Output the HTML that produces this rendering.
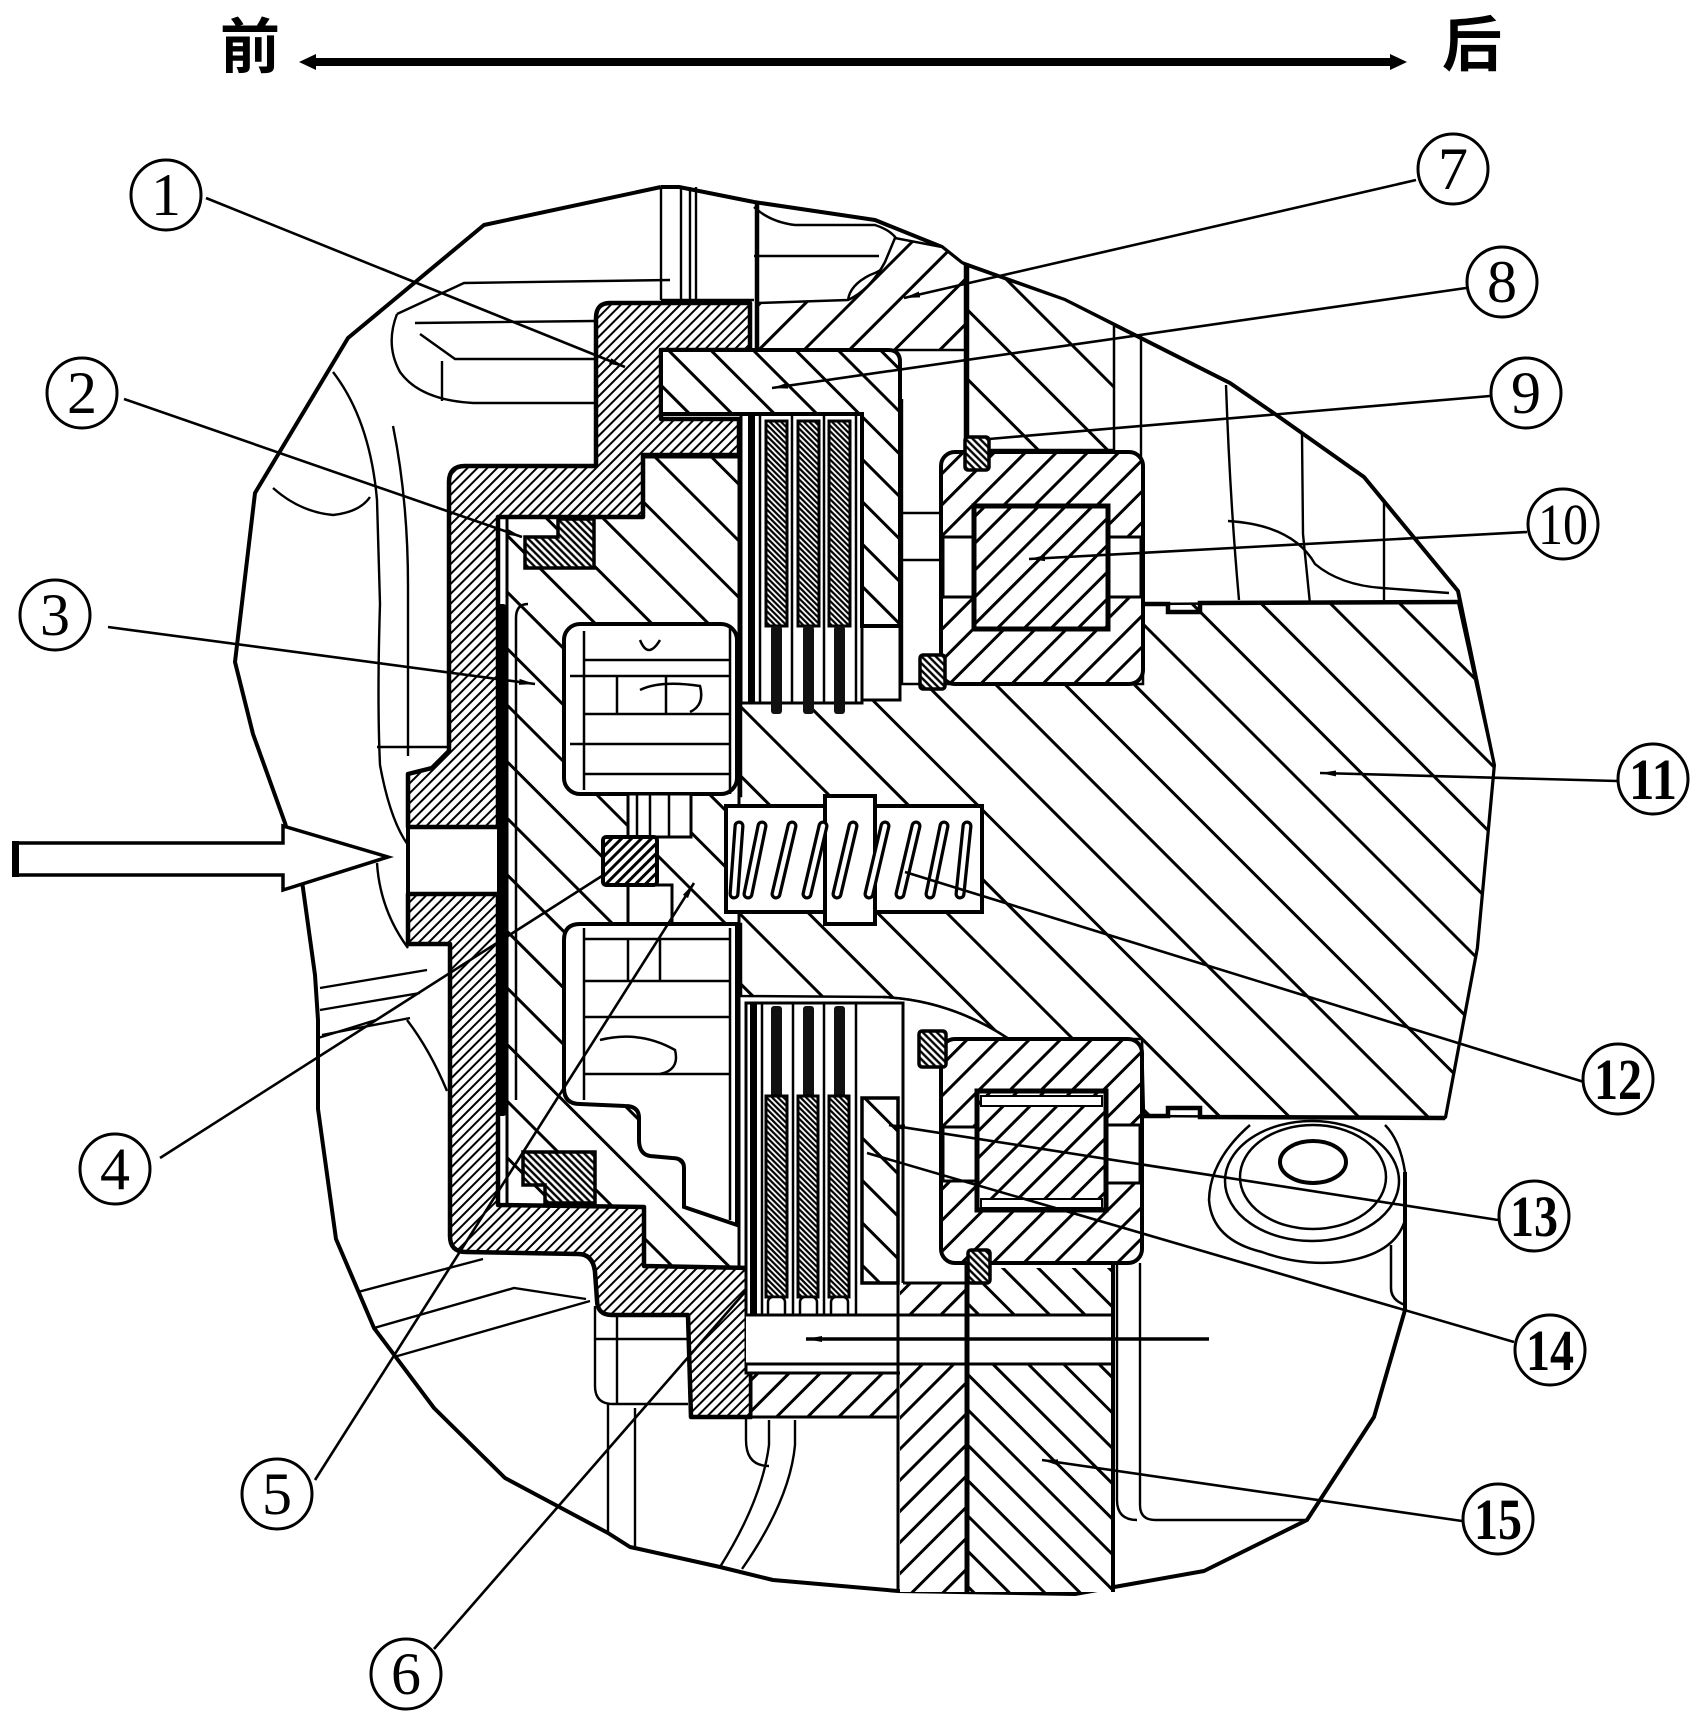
<!DOCTYPE html>
<html><head><meta charset="utf-8"><style>html,body{margin:0;padding:0;background:#fff}svg{display:block}</style></head>
<body>
<svg width="1699" height="1723" viewBox="0 0 1699 1723" xmlns="http://www.w3.org/2000/svg">
<defs>
<pattern id="d1" patternUnits="userSpaceOnUse" width="7" height="7" patternTransform="rotate(45)"><rect width="7" height="7" fill="#fff"/><line x1="3.5" y1="0" x2="3.5" y2="7" stroke="#000" stroke-width="2"/></pattern>
<pattern id="b3" patternUnits="userSpaceOnUse" width="40" height="40" patternTransform="rotate(-45)"><rect width="40" height="40" fill="#fff"/><line x1="20" y1="0" x2="20" y2="40" stroke="#000" stroke-width="3"/></pattern>
<pattern id="b11" patternUnits="userSpaceOnUse" width="49" height="49" patternTransform="rotate(-45)"><rect width="49" height="49" fill="#fff"/><line x1="24" y1="0" x2="24" y2="49" stroke="#000" stroke-width="3"/></pattern>
<pattern id="b8" patternUnits="userSpaceOnUse" width="30" height="30" patternTransform="rotate(-45)"><rect width="30" height="30" fill="#fff"/><line x1="15" y1="0" x2="15" y2="30" stroke="#000" stroke-width="3"/></pattern>
<pattern id="f7" patternUnits="userSpaceOnUse" width="32" height="32" patternTransform="rotate(45)"><rect width="32" height="32" fill="#fff"/><line x1="16" y1="0" x2="16" y2="32" stroke="#000" stroke-width="3"/></pattern>
<pattern id="fr" patternUnits="userSpaceOnUse" width="22" height="22" patternTransform="rotate(45)"><rect width="22" height="22" fill="#fff"/><line x1="11" y1="0" x2="11" y2="22" stroke="#000" stroke-width="3"/></pattern>
<pattern id="f10" patternUnits="userSpaceOnUse" width="19" height="19" patternTransform="rotate(45)"><rect width="19" height="19" fill="#fff"/><line x1="9.5" y1="0" x2="9.5" y2="19" stroke="#000" stroke-width="3"/></pattern>
<pattern id="b15" patternUnits="userSpaceOnUse" width="25" height="25" patternTransform="rotate(-45)"><rect width="25" height="25" fill="#fff"/><line x1="12.5" y1="0" x2="12.5" y2="25" stroke="#000" stroke-width="3"/></pattern>
<pattern id="sl" patternUnits="userSpaceOnUse" width="5" height="5" patternTransform="rotate(-45)"><rect width="5" height="5" fill="#fff"/><line x1="2.5" y1="0" x2="2.5" y2="5" stroke="#000" stroke-width="2.4"/></pattern>
<pattern id="s4" patternUnits="userSpaceOnUse" width="7" height="7" patternTransform="rotate(45)"><rect width="7" height="7" fill="#fff"/><line x1="3.5" y1="0" x2="3.5" y2="7" stroke="#000" stroke-width="3"/></pattern>
<pattern id="fc" patternUnits="userSpaceOnUse" width="4" height="4" patternTransform="rotate(-45)"><rect width="4" height="4" fill="#fff"/><line x1="2" y1="0" x2="2" y2="4" stroke="#000" stroke-width="2.2"/></pattern>
<marker id="ar" viewBox="0 0 16 8" refX="16" refY="4" markerWidth="16" markerHeight="8" markerUnits="userSpaceOnUse" orient="auto"><path d="M0,1 L16,4 L0,7 Z" fill="#000"/></marker>
<clipPath id="bossclip"><rect x="1150" y="1119" width="300" height="250"/></clipPath>
</defs>
<rect width="1699" height="1723" fill="#fff"/>

<!-- title -->
<text x="250" y="68" font-family="Liberation Sans, Noto Sans CJK SC, sans-serif" font-size="60" font-weight="bold" text-anchor="middle">前</text>
<text x="1472" y="66" font-family="Liberation Sans, Noto Sans CJK SC, sans-serif" font-size="60" font-weight="bold" text-anchor="middle">后</text>
<line x1="310" y1="62" x2="1396" y2="62" stroke="#000" stroke-width="8"/>
<polygon points="299,62 316,54 316,70" fill="#000"/>
<polygon points="1407,62 1390,54 1390,70" fill="#000"/>

<!-- thin housing lines -->
<g fill="none" stroke="#000" stroke-width="2.4">
<path d="M397,314 L464,283 L670,280"/>
<path d="M415,323 L594,321"/>
<path d="M420,334 L455,359 L594,359"/>
<path d="M397,314 Q385,345 400,372 Q420,400 473,403 L594,403"/>
<path d="M442,361 L442,401"/>
<path d="M661,187 L661,300 M681,187 L681,300 M690,187 L690,300 M696,187 L696,300 M661,300 L754,300"/>
<path d="M754,207 Q770,222 795,225 L875,225 Q905,235 897,255 Q885,270 870,275 Q850,285 848,300"/>
<path d="M754,256 L879,256"/>
<path d="M333,372 Q370,420 377,500 L380,604 Q377,700 380,765 Q390,820 408,845"/>
<path d="M393,426 Q408,500 408,586 L408,756"/>
<path d="M273,488 Q300,512 333,515 Q360,512 370,497"/>
<path d="M377,747 L450,747"/>
<path d="M377,863 Q380,910 408,948"/>
<path d="M320,988 L427,970 M320,1010 L420,993 M322,1035 L410,1018"/>
<path d="M318,1038 L376,1020 M407,1020 Q430,1050 447,1091"/>
<path d="M358,1292 L483,1259 M374,1328 L514,1288 L586,1299 M394,1357 L590,1301"/>
<path d="M595,1306 L595,1386 Q595,1404 613,1404 L688,1404 M617,1315 L617,1404 M595,1339 L688,1339"/>
<path d="M608,1404 L608,1533 M635,1408 L635,1547"/>
<path d="M720,1567 Q762,1500 769,1445 L769,1420 M742,1569 Q790,1500 795,1445 L795,1420"/>
<path d="M746,1417 L746,1440 Q746,1466 769,1466"/>
<path d="M898,1417 L898,1592 M1140,1263 L1140,1505 Q1140,1520 1155,1520 L1307,1520 M1117,1263 L1117,1500 Q1117,1520 1137,1520"/>
<path d="M1226,385 Q1230,500 1239,600 M1302,434 L1303,534 L1310,604 M1384,501 L1384,600"/>
<path d="M1228,521 Q1293,525 1315,564 Q1340,585 1382,588 L1449,593"/>
<path d="M1141,334 L1141,604"/>
<path d="M902,399 L902,684 M902,513 L940,513 M902,560 L940,560"/>
</g>

<!-- outer boundary -->
<g fill="none" stroke="#000" stroke-width="4" stroke-linejoin="round">
<path d="M661,187 L679,187 L754,202 L875,220 L942,247 L962,263 L1065,300 L1119,327 L1230,383 L1275,414 L1364,477 L1458,591 L1494,765 L1477,948 L1445,1118"/>
<path d="M1405,1172 L1405,1310 L1374,1417 L1307,1520 L1204,1571 L1075,1594 L898,1591 L773,1580 L720,1567 L630,1547 L608,1533 L505,1478 L434,1408 L374,1328 L336,1239 L318,1109 L318,1020 L315,975 L302,881 L285,823 L253,734 L235,662 L255,493 L348,338 L484,225 L661,187"/>
</g>

<!-- part 7 top regions -->
<path d="M757,303 L848,300 Q870,290 885,262 L895,238 L942,247 L962,263 L966,265 L966,350 L757,350 Z" fill="url(#f7)" stroke="#000" stroke-width="2.5"/>
<path d="M968,266 L1065,300 L1114,325 L1114,450 L968,450 Z" fill="url(#b11)" stroke="#000" stroke-width="2.5"/>
<line x1="757" y1="202" x2="757" y2="350" stroke="#000" stroke-width="4.5"/>
<line x1="966" y1="263" x2="966" y2="450" stroke="#000" stroke-width="4.5"/>

<!-- part 11 -->
<path d="M741,700 L900,700 L900,684 L1143,684 L1143,604 L1458,602 L1494,765 L1477,948 L1445,1118 L1144,1116 L1142,1039 L1009,1039 Q950,1000 883,997 L741,996 L741,924 L700,924 L672,880 L659,840 L689,796 L741,796 Z" fill="url(#b11)" stroke="#000" stroke-width="2.5"/>
<path d="M1143,604 L1168,604 L1168,612 L1200,612 L1200,603 L1458,602" fill="none" stroke="#000" stroke-width="4.5"/>
<path d="M1144,1116 L1168,1116 L1168,1108 L1200,1108 L1200,1117 L1445,1118" fill="none" stroke="#000" stroke-width="4.5"/>
<path d="M883,997 Q950,1000 1009,1039" fill="none" stroke="#000" stroke-width="2.5"/>

<!-- part 3 -->
<path d="M507,517 L643,517 L643,457 L739,457 L739,1268 L644,1266 L644,1207 L507,1205 Z" fill="url(#b3)" stroke="#000" stroke-width="3"/>
<!-- upper cavity -->
<rect x="564" y="624" width="173" height="170" rx="16" fill="#fff" stroke="#000" stroke-width="4"/>
<g stroke="#000" stroke-width="2.5" fill="none">
<path d="M584,631 L584,790 M730,628 L730,794 M584,660 L730,660 M570,676 L730,676 M584,714 L730,714 M570,744 L730,744 M584,774 L730,774"/>
<path d="M617,676 L617,714 M666,676 L666,714 M640,640 Q648,660 660,640"/>
<path d="M640,690 Q660,680 700,686 Q705,705 690,712"/>
</g>
<!-- stem -->
<rect x="628" y="794" width="63" height="43" fill="#fff" stroke="#000" stroke-width="3"/>
<path d="M637,794 L637,837 M650,794 L650,837 M669,794 L669,837" stroke="#000" stroke-width="2.5"/>
<rect x="628" y="885" width="44" height="39" fill="#fff" stroke="#000" stroke-width="3"/>
<!-- lower cavity -->
<path d="M580,924 L737,924 L737,1225 L684,1207 L684,1168 Q684,1158 672,1158 L650,1156 Q639,1154 639,1140 L639,1118 Q639,1106 625,1106 L580,1104 Q564,1104 564,1088 L564,940 Q564,924 580,924 Z" fill="#fff" stroke="#000" stroke-width="4"/>
<g stroke="#000" stroke-width="2.5" fill="none">
<path d="M584,939 L730,939 M584,981 L730,981 M584,1017 L730,1017 M584,1074 L730,1074 M584,928 L584,1100 M730,928 L730,1220 M628,939 L628,981 M660,939 L660,981"/>
<path d="M600,1040 Q640,1030 675,1050 Q680,1070 660,1074"/>
</g>
<!-- thin line and black bar -->
<path d="M516,1100 L516,618 Q516,604 528,604" fill="none" stroke="#000" stroke-width="2.5"/>
<rect x="497" y="604" width="10" height="512" rx="4" fill="#000"/>

<!-- part 1 upper and lower -->
<path d="M610,303 L750,303 L750,350 L661,350 L661,419 L739,419 L739,455 L643,455 L643,517 L498,517 L498,827 L408,827 L408,774 L432,768 L449,751 L449,482 Q449,466 465,466 L596,466 L596,318 Q596,303 610,303 Z" fill="url(#d1)" stroke="#000" stroke-width="4.5" stroke-linejoin="round"/>
<path d="M408,894 L498,894 L498,1205 L644,1207 L644,1266 L751,1268 L751,1417 L691,1417 L688,1315 L612,1315 Q597,1315 597,1300 L595,1272 Q593,1254 578,1254 L466,1252 Q450,1252 450,1236 L450,944 L408,944 Z" fill="url(#d1)" stroke="#000" stroke-width="4.5" stroke-linejoin="round"/>
<line x1="408" y1="774" x2="408" y2="944" stroke="#000" stroke-width="4"/>

<!-- seals -->
<path d="M558,519 L594,519 L594,568 L525,568 L525,537 L558,537 Z" fill="url(#sl)" stroke="#000" stroke-width="3.5"/>
<path d="M523,1152 L595,1152 L595,1203 L545,1203 L545,1185 L523,1185 Z" fill="url(#sl)" stroke="#000" stroke-width="3.5"/>
<rect x="603" y="837" width="54" height="48" rx="3" fill="url(#s4)" stroke="#000" stroke-width="4"/>

<!-- spring box -->
<rect x="726" y="806" width="256" height="106" fill="#fff" stroke="#000" stroke-width="4"/>
<rect x="825" y="796" width="50" height="128" fill="#fff" stroke="#000" stroke-width="4"/>
<g stroke-linecap="round">
<g stroke="#000" stroke-width="11">
<line x1="734" y1="894" x2="739" y2="826"/><line x1="748" y1="894" x2="762" y2="826"/><line x1="776" y1="894" x2="792" y2="826"/><line x1="807" y1="894" x2="823" y2="826"/><line x1="837" y1="894" x2="853" y2="826"/><line x1="869" y1="894" x2="885" y2="826"/><line x1="900" y1="894" x2="916" y2="826"/><line x1="930" y1="894" x2="944" y2="826"/><line x1="960" y1="894" x2="967" y2="826"/>
</g>
<g stroke="#fff" stroke-width="4.5">
<line x1="734" y1="894" x2="739" y2="826"/><line x1="748" y1="894" x2="762" y2="826"/><line x1="776" y1="894" x2="792" y2="826"/><line x1="807" y1="894" x2="823" y2="826"/><line x1="837" y1="894" x2="853" y2="826"/><line x1="869" y1="894" x2="885" y2="826"/><line x1="900" y1="894" x2="916" y2="826"/><line x1="930" y1="894" x2="944" y2="826"/><line x1="960" y1="894" x2="967" y2="826"/>
</g>
</g>

<!-- upper disc pack -->
<rect x="741" y="414" width="121" height="289" fill="#fff" stroke="#000" stroke-width="3"/>
<rect x="862" y="620" width="38" height="80" fill="#fff" stroke="#000" stroke-width="3"/>
<path d="M661,350 L888,350 Q900,350 900,362 L900,626 L862,626 L862,414 L661,414 Z" fill="url(#b8)" stroke="#000" stroke-width="4"/>
<rect x="748" y="414" width="7" height="288" fill="#000"/>
<g stroke="#000" stroke-width="2.5">
<line x1="760" y1="414" x2="760" y2="703"/><line x1="792" y1="414" x2="792" y2="703"/><line x1="824" y1="414" x2="824" y2="703"/><line x1="856" y1="414" x2="856" y2="703"/>
</g>
<g fill="url(#fc)" stroke="#000" stroke-width="3">
<rect x="766" y="421" width="21" height="205"/><rect x="798" y="421" width="21" height="205"/><rect x="829" y="421" width="21" height="205"/>
</g>
<g fill="#111">
<rect x="771" y="626" width="11" height="88" rx="3"/><rect x="803" y="626" width="11" height="88" rx="3"/><rect x="834" y="626" width="11" height="88" rx="3"/>
</g>

<!-- lower disc pack -->
<rect x="746" y="1003" width="157" height="370" fill="#fff" stroke="#000" stroke-width="3"/>
<rect x="750" y="1003" width="7" height="335" fill="#000"/>
<g stroke="#000" stroke-width="2.5">
<line x1="762" y1="1003" x2="762" y2="1341"/><line x1="793" y1="1003" x2="793" y2="1341"/><line x1="824" y1="1003" x2="824" y2="1341"/><line x1="856" y1="1003" x2="856" y2="1341"/>
<line x1="746" y1="1341" x2="903" y2="1341"/><line x1="746" y1="1355" x2="903" y2="1355"/>
</g>
<g fill="#111">
<rect x="771" y="1006" width="11" height="92" rx="3"/><rect x="803" y="1006" width="11" height="92" rx="3"/><rect x="834" y="1006" width="11" height="92" rx="3"/>
</g>
<g fill="url(#fc)" stroke="#000" stroke-width="3">
<rect x="766" y="1096" width="21" height="201"/><rect x="798" y="1096" width="20" height="201"/><rect x="829" y="1096" width="20" height="201"/>
</g>
<g fill="#fff" stroke="#000" stroke-width="2.5">
<rect x="768" y="1297" width="17" height="40" rx="5"/><rect x="800" y="1297" width="17" height="40" rx="5"/><rect x="831" y="1297" width="17" height="40" rx="5"/>
</g>
<rect x="862" y="1098" width="36" height="185" fill="url(#b8)" stroke="#000" stroke-width="3.5"/>

<!-- lower right hatched regions -->
<rect x="968" y="1268" width="145" height="324" fill="url(#b15)"/>
<rect x="900" y="1283" width="66" height="309" fill="url(#fr)"/>
<rect x="751" y="1373" width="147" height="44" fill="url(#fr)" stroke="#000" stroke-width="3"/>
<rect x="746" y="1315" width="367" height="49" fill="#fff"/>
<g stroke="#000">
<line x1="746" y1="1315" x2="1113" y2="1315" stroke-width="3"/>
<line x1="746" y1="1364" x2="1113" y2="1364" stroke-width="3"/>
<line x1="967" y1="1250" x2="967" y2="1594" stroke-width="5"/>
<line x1="1113" y1="1263" x2="1113" y2="1592" stroke-width="4"/>
<line x1="898" y1="1283" x2="898" y2="1592" stroke-width="3"/>
<line x1="903" y1="1283" x2="968" y2="1283" stroke-width="3"/>
</g>

<!-- upper ring (10) -->
<rect x="941" y="452" width="202" height="232" rx="14" fill="url(#fr)" stroke="#000" stroke-width="4"/>
<rect x="943" y="537" width="31" height="60" fill="#fff" stroke="#000" stroke-width="3"/>
<rect x="1108" y="537" width="33" height="60" fill="#fff" stroke="#000" stroke-width="3"/>
<rect x="974" y="506" width="134" height="123" fill="url(#f10)" stroke="#000" stroke-width="5"/>

<!-- lower ring (13/14) -->
<rect x="941" y="1039" width="201" height="224" rx="14" fill="url(#fr)" stroke="#000" stroke-width="4"/>
<rect x="943" y="1127" width="34" height="54" fill="#fff" stroke="#000" stroke-width="3"/>
<rect x="1106" y="1125" width="34" height="58" fill="#fff" stroke="#000" stroke-width="3"/>
<rect x="977" y="1091" width="129" height="119" fill="url(#f10)" stroke="#000" stroke-width="5"/>
<rect x="981" y="1096" width="121" height="10" fill="#fff" stroke="#000" stroke-width="2"/>
<rect x="981" y="1199" width="121" height="9" fill="#fff" stroke="#000" stroke-width="2"/>

<!-- seals 9 -->
<g fill="url(#sl)" stroke="#000" stroke-width="3.5">
<rect x="965" y="437" width="24" height="33" rx="3"/>
<rect x="920" y="655" width="25" height="34" rx="3"/>
<rect x="919" y="1031" width="27" height="36" rx="3"/>
<rect x="968" y="1250" width="22" height="33" rx="3"/>
</g>

<!-- boss -->
<g fill="none" stroke="#000" stroke-width="2.5">
<path d="M1250,1125 Q1210,1160 1209,1200 Q1212,1240 1262,1252 Q1300,1266 1340,1262 Q1395,1255 1405,1220 L1405,1172 Q1400,1140 1385,1125"/>
<g clip-path="url(#bossclip)">
<ellipse cx="1312" cy="1181" rx="87" ry="60"/>
<ellipse cx="1313" cy="1177" rx="73" ry="52"/>
</g>
<ellipse cx="1313" cy="1162" rx="33" ry="21" stroke-width="4"/>
<path d="M1391,1245 L1391,1288 Q1391,1300 1405,1305"/>
</g>

<!-- big hollow arrow -->
<path d="M14,843 L283,843 L283,826 L388,857 L283,890 L283,875 L14,875 Z" fill="#fff" stroke="#000" stroke-width="3.5" stroke-linejoin="miter"/>
<rect x="12" y="841" width="7" height="36" fill="#000"/>

<!-- leaders -->
<g stroke="#000" stroke-width="2.6" fill="none">
<line x1="206" y1="198" x2="625" y2="367" marker-end="url(#ar)"/>
<line x1="124" y1="399" x2="522" y2="537" marker-end="url(#ar)"/>
<line x1="108" y1="627" x2="535" y2="684" marker-end="url(#ar)"/>
<line x1="160" y1="1158" x2="605" y2="874"/>
<line x1="315" y1="1480" x2="694" y2="883" marker-end="url(#ar)"/>
<line x1="434" y1="1649" x2="745" y2="1292"/>
<line x1="1416" y1="180" x2="904" y2="298" marker-end="url(#ar)"/>
<line x1="1466" y1="288" x2="772" y2="388" marker-end="url(#ar)"/>
<line x1="1490" y1="396" x2="989" y2="439"/>
<line x1="1527" y1="532" x2="1029" y2="559" marker-end="url(#ar)"/>
<line x1="1617" y1="781" x2="1320" y2="773" marker-end="url(#ar)"/>
<line x1="1584" y1="1082" x2="905" y2="872"/>
<line x1="1498" y1="1220" x2="889" y2="1125" marker-end="url(#ar)"/>
<line x1="1514" y1="1342" x2="867" y2="1153"/>
<line x1="1462" y1="1521" x2="1042" y2="1460" marker-end="url(#ar)"/>
<line x1="1209" y1="1339" x2="806" y2="1339" stroke-width="3.5" marker-end="url(#ar)"/>
</g>

<!-- labels -->
<g fill="#fff" stroke="#000" stroke-width="3">
<circle cx="166" cy="195" r="35"/>
<circle cx="82" cy="393" r="35"/>
<circle cx="55" cy="615" r="35"/>
<circle cx="115" cy="1169" r="35"/>
<circle cx="277" cy="1494" r="35"/>
<circle cx="406" cy="1674" r="35"/>
<circle cx="1453" cy="169" r="35"/>
<circle cx="1502" cy="282" r="35"/>
<circle cx="1526" cy="393" r="35"/>
<circle cx="1563" cy="524" r="35"/>
<circle cx="1653" cy="779" r="35"/>
<circle cx="1618" cy="1079" r="35"/>
<circle cx="1534" cy="1216" r="35"/>
<circle cx="1550" cy="1350" r="35"/>
<circle cx="1498" cy="1519" r="35"/>
</g>
<g font-family="Liberation Serif, serif" font-size="60" text-anchor="middle" fill="#000">
<text x="166" y="215">1</text>
<text x="82" y="413">2</text>
<text x="55" y="635">3</text>
<text x="115" y="1189">4</text>
<text x="277" y="1514">5</text>
<text x="406" y="1694">6</text>
<text x="1453" y="189">7</text>
<text x="1502" y="302">8</text>
<text x="1526" y="413">9</text>
</g>
<g font-family="Liberation Serif, serif" font-size="58" text-anchor="middle" fill="#000">
<text x="1563" y="544" textLength="50" lengthAdjust="spacingAndGlyphs">10</text>
<text x="1653" y="799" textLength="48" lengthAdjust="spacingAndGlyphs" font-weight="bold">11</text>
<text x="1618" y="1099" textLength="48" lengthAdjust="spacingAndGlyphs" font-weight="bold">12</text>
<text x="1534" y="1236" textLength="48" lengthAdjust="spacingAndGlyphs" font-weight="bold">13</text>
<text x="1550" y="1370" textLength="48" lengthAdjust="spacingAndGlyphs" font-weight="bold">14</text>
<text x="1498" y="1539" textLength="48" lengthAdjust="spacingAndGlyphs" font-weight="bold">15</text>
</g>
</svg>
</body></html>
